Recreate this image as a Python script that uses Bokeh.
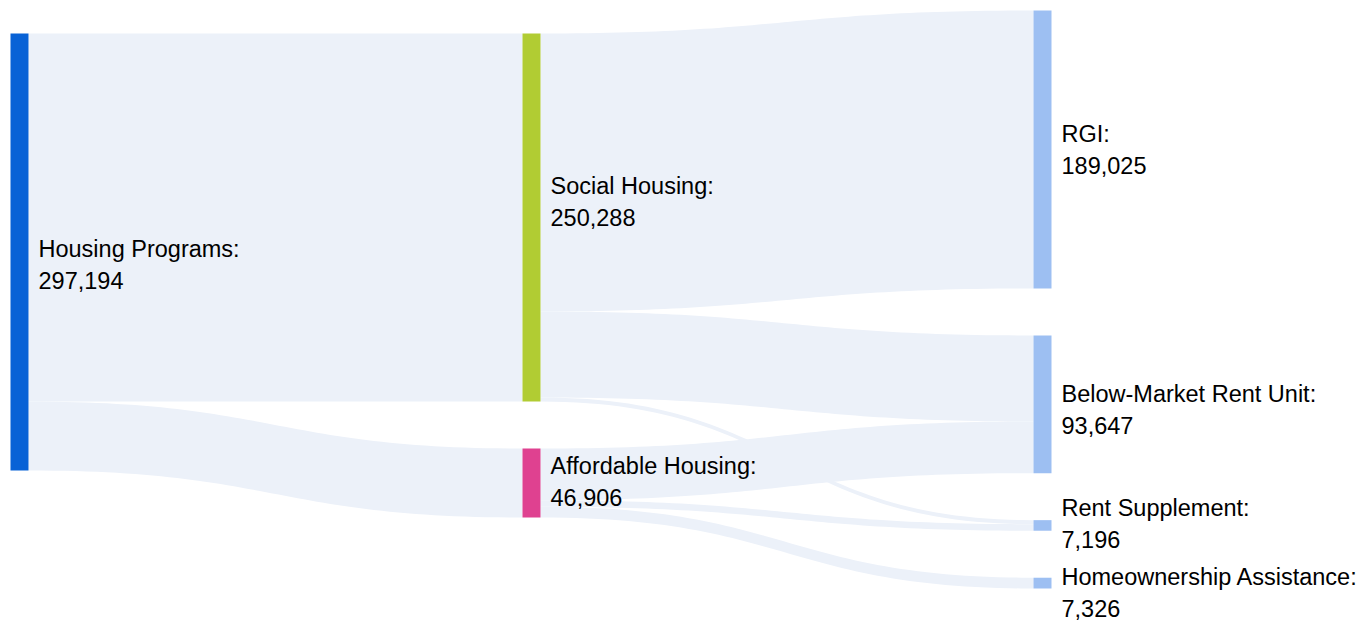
from bokeh.plotting import figure
from bokeh.models import Range1d, ColumnDataSource
from bokeh.embed import file_html
from bokeh.resources import INLINE
from bokeh.core.properties import value
import numpy as np

# ---------------- data ----------------
nodes = ["Housing Programs", "Social Housing", "Affordable Housing", "RGI",
         "Below-Market Rent Unit", "Rent Supplement", "Homeownership Assistance"]
link_source = ["Housing Programs", "Housing Programs",
               "Social Housing", "Social Housing", "Social Housing",
               "Affordable Housing", "Affordable Housing", "Affordable Housing"]
link_target = ["Social Housing", "Affordable Housing",
               "RGI", "Below-Market Rent Unit", "Rent Supplement",
               "Below-Market Rent Unit", "Rent Supplement", "Homeownership Assistance"]
link_value = [250288, 46906,
              189025, 58503, 2760,
              35144, 4436, 7326]

# ---------------- style / layout ----------------
node_colors = ["#0862D6", "#B1CC33", "#DF4190", "#9DBFF2", "#9DBFF2", "#9DBFF2", "#9DBFF2"]
link_color = "#ECF1F9"
W, H = 1364, 623
col_x = [10, 522, 1033]
col_top = [33, 33, 10]
node_w = 18
node_pad = 47
label_gap = 10
line_gap = 31.5
label_shift = [13, -16, -1, 0, 5.5, -2, 10]
font_size = "23.5px"

# ---------------- layout computation ----------------
idx = {n: i for i, n in enumerate(nodes)}
n_in = np.zeros(len(nodes))
n_out = np.zeros(len(nodes))
for s, t, v in zip(link_source, link_target, link_value):
    n_out[idx[s]] += v
    n_in[idx[t]] += v
node_val = np.maximum(n_in, n_out)

depth = [0] * len(nodes)
changed = True
while changed:
    changed = False
    for s, t in zip(link_source, link_target):
        if depth[idx[t]] < depth[idx[s]] + 1:
            depth[idx[t]] = depth[idx[s]] + 1
            changed = True

k = 437 / node_val[idx["Housing Programs"]]
y0 = [0.0] * len(nodes)
y1 = [0.0] * len(nodes)
cur = {c: col_top[c] for c in range(len(col_x))}
for i, n in enumerate(nodes):
    c = depth[i]
    y0[i] = cur[c]
    y1[i] = cur[c] + node_val[i] * k
    cur[c] = y1[i] + node_pad
x0 = [col_x[depth[i]] for i in range(len(nodes))]

# link offsets
src_off = list(y0)
tgt_off = list(y0)
order = sorted(range(len(link_value)), key=lambda j: (idx[link_source[j]], idx[link_target[j]]))
link_src_y = {}
for j in order:
    s = idx[link_source[j]]
    h = link_value[j] * k
    link_src_y[j] = (src_off[s], src_off[s] + h)
    src_off[s] += h
order_t = sorted(range(len(link_value)), key=lambda j: (idx[link_target[j]], idx[link_source[j]]))
link_tgt_y = {}
for j in order_t:
    t = idx[link_target[j]]
    h = link_value[j] * k
    link_tgt_y[j] = (tgt_off[t], tgt_off[t] + h)
    tgt_off[t] += h

tt = np.linspace(0, 1, 60)


def bez(xa, ya, xb, yb):
    xm = (xa + xb) / 2
    bx = (1 - tt) ** 3 * xa + 3 * (1 - tt) ** 2 * tt * xm + 3 * (1 - tt) * tt ** 2 * xm + tt ** 3 * xb
    by = (1 - tt) ** 3 * ya + 3 * (1 - tt) ** 2 * tt * ya + 3 * (1 - tt) * tt ** 2 * yb + tt ** 3 * yb
    return bx, by


lxs, lys = [], []
for j in order:
    s = idx[link_source[j]]
    t = idx[link_target[j]]
    xa = x0[s] + node_w
    xb = x0[t]
    (sa, sb) = link_src_y[j]
    (ta, tb) = link_tgt_y[j]
    tx, ty = bez(xa, sa, xb, ta)
    bx, by = bez(xa, sb, xb, tb)
    lxs.append(list(np.concatenate([tx, bx[::-1]])))
    lys.append(list(np.concatenate([ty, by[::-1]])))

# ---------------- figure ----------------
p = figure(width=W, height=H, x_range=Range1d(0, W), y_range=Range1d(H, 0),
           output_backend="svg", toolbar_location=None, min_border=0,
           x_axis_type=None, y_axis_type=None, outline_line_color=None,
           background_fill_color="white", border_fill_color="white")
p.grid.visible = False

p.patches(xs=lxs, ys=lys, fill_color=link_color, line_color=None)

ns = ColumnDataSource(dict(left=x0, right=[x + node_w for x in x0], top=y0, bottom=y1, color=node_colors))
p.quad(left="left", right="right", top="top", bottom="bottom", fill_color="color", line_color=None, source=ns)

lx = [x0[i] + node_w + label_gap for i in range(len(nodes))]
ly1 = [(y0[i] + y1[i]) / 2 - line_gap / 2 + label_shift[i] for i in range(len(nodes))]
ly2 = [y + line_gap for y in ly1]
t1 = [n + ":" for n in nodes]
t2 = [f"{int(v):,}" for v in node_val]
p.text(x=lx, y=ly1, text=t1, text_baseline="middle", text_align="left",
       text_font=value("Liberation Sans"), text_font_size=font_size, text_color="black")
p.text(x=lx, y=ly2, text=t2, text_baseline="middle", text_align="left",
       text_font=value("Liberation Sans"), text_font_size=font_size, text_color="black")

open("out.html", "w").write(file_html(p, INLINE))
